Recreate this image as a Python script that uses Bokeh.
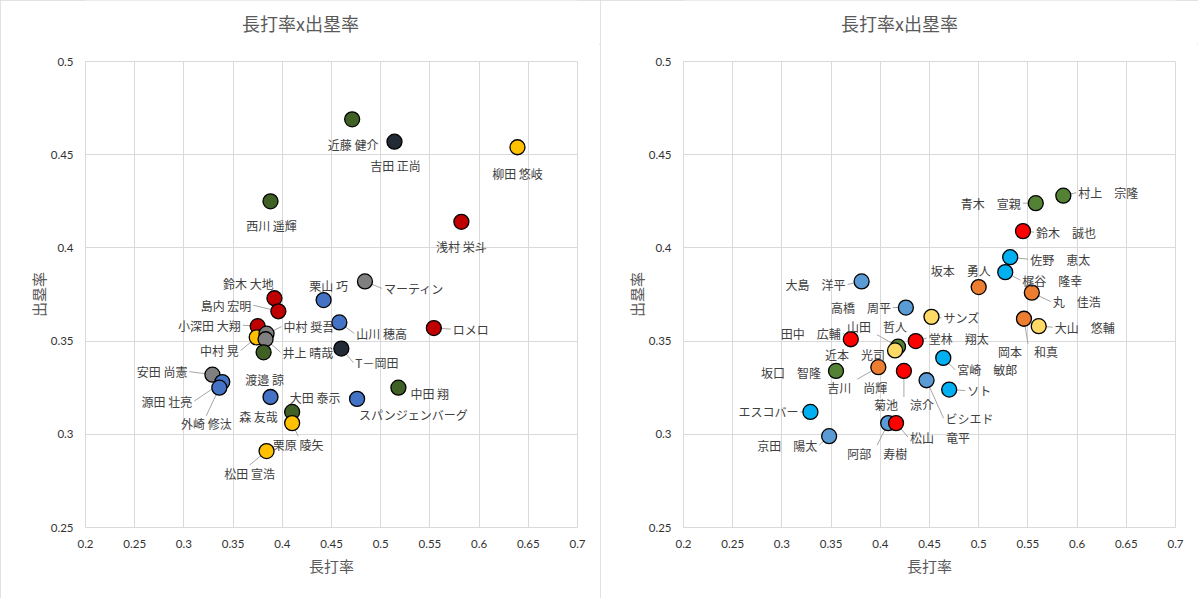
from bokeh.plotting import figure
from bokeh.models import FixedTicker, Range1d, CustomJSTickFormatter, ColumnDataSource
from bokeh.layouts import row, column
from bokeh.embed import file_html
from bokeh.resources import INLINE
from bokeh.core.properties import value

# ---------------- data ----------------
title_text = "長打率x出塁率"
x_label = "長打率"
y_label = "出塁率"
x_ticks = [0.2, 0.25, 0.3, 0.35, 0.4, 0.45, 0.5, 0.55, 0.6, 0.65, 0.7]
y_ticks = [0.25, 0.3, 0.35, 0.4, 0.45, 0.5]

# left chart (Pacific League)
pa_names = ["近藤 健介", "吉田 正尚", "柳田 悠岐", "西川 遥輝", "浅村 栄斗", "マーティン",
            "鈴木 大地", "栗山 巧", "島内 宏明", "山川 穂高", "ロメロ", "小深田 大翔",
            "中村 晃", "中村 奨吾", "井上 晴哉", "渡邉 諒", "T－岡田", "安田 尚憲",
            "源田 壮亮", "外崎 修汰", "森 友哉", "大田 泰示", "栗原 陵矢", "松田 宣浩",
            "中田 翔", "スパンジェンバーグ"]
pa_slg = [0.471, 0.514, 0.639, 0.388, 0.582, 0.484, 0.392, 0.442, 0.396, 0.458, 0.554, 0.375,
          0.374, 0.384, 0.383, 0.381, 0.460, 0.329, 0.339, 0.336, 0.388, 0.410, 0.410, 0.384,
          0.518, 0.476]
pa_obp = [0.469, 0.457, 0.454, 0.425, 0.414, 0.382, 0.373, 0.372, 0.366, 0.360, 0.357, 0.358,
          0.352, 0.354, 0.351, 0.344, 0.346, 0.332, 0.328, 0.325, 0.320, 0.312, 0.306, 0.291,
          0.325, 0.319]
pa_team = ["F", "B", "H", "F", "E", "M", "E", "L", "E", "L", "E", "E",
           "H", "M", "M", "F", "B", "M", "L", "L", "L", "F", "H", "H", "F", "L"]

# right chart (Central League)
ce_names = ["村上　宗隆", "青木　宣親", "鈴木　誠也", "佐野　恵太", "梶谷　隆幸", "坂本　勇人",
            "丸　佳浩", "岡本　和真", "大山　悠輔", "サンズ", "堂林　翔太", "宮崎　敏郎",
            "ソト", "ビシエド", "菊池　涼介", "大島　洋平", "高橋　周平", "田中　広輔",
            "山田　哲人", "近本　光司", "吉川　尚輝", "坂口　智隆", "エスコバー", "京田　陽太",
            "阿部　寿樹", "松山　竜平"]
ce_slg = [0.586, 0.558, 0.545, 0.532, 0.527, 0.500, 0.554, 0.546, 0.561, 0.452, 0.436, 0.464,
          0.470, 0.447, 0.424, 0.381, 0.426, 0.370, 0.418, 0.415, 0.398, 0.355, 0.329, 0.348,
          0.408, 0.416]
ce_obp = [0.428, 0.424, 0.409, 0.395, 0.387, 0.379, 0.376, 0.362, 0.358, 0.363, 0.350, 0.341,
          0.324, 0.329, 0.334, 0.382, 0.368, 0.351, 0.347, 0.345, 0.336, 0.334, 0.312, 0.299,
          0.306, 0.306]
ce_team = ["S", "S", "C", "DB", "DB", "G", "G", "G", "T", "T", "C", "DB",
           "DB", "D", "C", "D", "D", "C", "S", "T", "G", "S", "DB", "D", "D", "C"]

# ---------------- styles / layout ----------------
pa_colors = {"F": "#3F6126", "B": "#222A35", "H": "#FFC000", "E": "#C00000",
             "M": "#808080", "L": "#4472C4"}
ce_colors = {"S": "#548235", "C": "#FF0000", "DB": "#00B0F0", "G": "#ED7D31",
             "T": "#FFD966", "D": "#5B9BD5"}

# label offsets in screen px (dx, dy down), alignment, leader line
pa_lab = [(1, 25, "c", 0), (1, 24, "c", 0), (0, 26, "c", 0), (1, 24, "c", 0), (0, 25, "c", 0),
          (19, 7, "l", 1), (-26, -15, "c", 0), (5, -15, "c", 0), (-27, -6, "r", 1),
          (17, 11, "l", 1), (19, 1, "l", 1), (-17, -1, "r", 1), (-18, 13, "r", 1),
          (17, -7, "l", 1), (17, 13, "l", 1), (1, 27, "c", 0), (14, 14, "l", 1),
          (-25, -3, "r", 1), (-30, 19, "r", 1), (-13, 36, "c", 1), (-12, 19, "c", 0),
          (23, -14, "c", 0), (6, 21, "c", 1), (-17, 22, "c", 1), (12, 6, "l", 0),
          (56, 16, "c", 0)]
ce_lab = [(15, -3, "l", 1), (-15, 0, "r", 1), (13, 1, "l", 1), (20, 2, "l", 1), (17, 8, "l", 1),
          (-18, -17, "c", 0), (21, 9, "l", 1), (4, 33, "c", 1), (16, 1, "l", 1), (12, 1, "l", 1),
          (13, -3, "l", 1), (14, 12, "l", 1), (18, 1, "l", 1), (19, 38, "l", 1), (0, 34, "c", 1),
          (-16, 3, "r", 1), (-15, 0, "r", 1), (-10, -6, "r", 1), (-21, -20, "c", 1),
          (-10, 4, "r", 0), (-21, 20, "c", 1), (-15, 2, "r", 0), (-12, 0, "r", 1),
          (-12, 9, "r", 1), (-11, 30, "c", 1), (14, 14, "l", 1)]

FW, FH = 492, 466
FIG_H = 598
TITLE_H = 44
XMIN, XMAX, YMIN, YMAX = 0.2, 0.7, 0.25, 0.5
JP = "Noto Sans CJK JP"
ALIGN = {"l": "left", "r": "right", "c": "center"}


def make_title(left_border, right_border):
    # frame of the title strip lines up with the chart frame below it
    t = figure(frame_width=FW, frame_height=TITLE_H, x_range=Range1d(0, FW),
               y_range=Range1d(0, TITLE_H), output_backend="svg", toolbar_location=None,
               min_border_left=left_border, min_border_right=right_border,
               min_border_top=0, min_border_bottom=0,
               x_axis_location=None, y_axis_location=None,
               background_fill_color="white", border_fill_color="white")
    t.grid.visible = False
    t.outline_line_color = None
    centre = (left_border + FW + right_border) / 2 - left_border
    t.text(x=[centre], y=[TITLE_H / 2], text=[title_text], text_align="center",
           text_baseline="middle", text_font=value(JP), text_font_size="18px",
           text_color="#595959")
    return t


def make(names, xs, ys, teams, colors, labs, left_border, right_border):
    p = figure(frame_width=FW, frame_height=FH, x_range=Range1d(XMIN, XMAX),
               y_range=Range1d(YMIN, YMAX), output_backend="svg", toolbar_location=None,
               min_border_left=left_border, min_border_right=right_border,
               min_border_top=61 - TITLE_H, min_border_bottom=FIG_H - 61 - FH,
               background_fill_color="white", border_fill_color="white")
    p.outline_line_color = "#D9D9D9"

    sx = (XMAX - XMIN) / FW
    sy = (YMAX - YMIN) / FH

    fmt = CustomJSTickFormatter(code="return tick.toFixed(2).replace(/0$/, '');")
    for ax, ticks, lab in ((p.xaxis[0], x_ticks, x_label), (p.yaxis[0], y_ticks, y_label)):
        ax.ticker = FixedTicker(ticks=ticks)
        ax.formatter = fmt
        ax.axis_line_color = None
        ax.major_tick_line_color = None
        ax.minor_tick_line_color = None
        ax.major_tick_out = 0
        ax.major_tick_in = 0
        ax.major_label_text_font = "Lato"
        ax.major_label_text_font_size = "11.5px"
        ax.major_label_text_color = "#333333"
        ax.major_label_standoff = 12
        ax.axis_label = lab
        ax.axis_label_text_font = JP
        ax.axis_label_text_font_size = "15px"
        ax.axis_label_text_font_style = "normal"
        ax.axis_label_text_color = "#595959"
        ax.axis_label_standoff = 4
    p.yaxis[0].axis_label_standoff = -1
    p.xgrid.ticker = FixedTicker(ticks=x_ticks)
    p.ygrid.ticker = FixedTicker(ticks=y_ticks)
    p.xgrid.grid_line_color = "#D9D9D9"
    p.ygrid.grid_line_color = "#D9D9D9"

    lx, ly, al, x0s, y0s, x1s, y1s = [], [], [], [], [], [], []
    for x, y, (dx, dy, a, lead) in zip(xs, ys, labs):
        lx.append(x + dx * sx)
        ly.append(y - dy * sy)
        al.append(ALIGN[a])
        if lead:
            if a == "l":
                ex, ey = dx - 2, dy
            elif a == "r":
                ex, ey = dx + 2, dy
            else:
                ex, ey = dx, dy - (8 if dy > 0 else -8)
            x0s.append(x)
            y0s.append(y)
            x1s.append(x + ex * sx)
            y1s.append(y - ey * sy)
    p.segment(x0=x0s, y0=y0s, x1=x1s, y1=y1s, line_color="#A6A6A6", line_width=1)
    src = ColumnDataSource(dict(x=xs, y=ys, c=[colors[t] for t in teams]))
    p.scatter("x", "y", source=src, size=15, fill_color="c", line_color="black",
              line_width=1.3)
    tsrc = ColumnDataSource(dict(x=lx, y=ly, t=names, a=al))
    p.text("x", "y", text="t", source=tsrc, text_align="a", text_baseline="middle",
           text_font=value(JP), text_font_size="12px", text_color="#404040")
    return column(make_title(left_border, right_border), p, spacing=0,
                  styles={"outline": "1px solid #D9D9D9", "outline-offset": "-1px"})


c1 = make(pa_names, pa_slg, pa_obp, pa_team, pa_colors, pa_lab, 85, 23)
c2 = make(ce_names, ce_slg, ce_obp, ce_team, ce_colors, ce_lab, 83, 23)
layout = row(c1, c2, spacing=0)
open("out.html", "w").write(file_html(layout, INLINE))
